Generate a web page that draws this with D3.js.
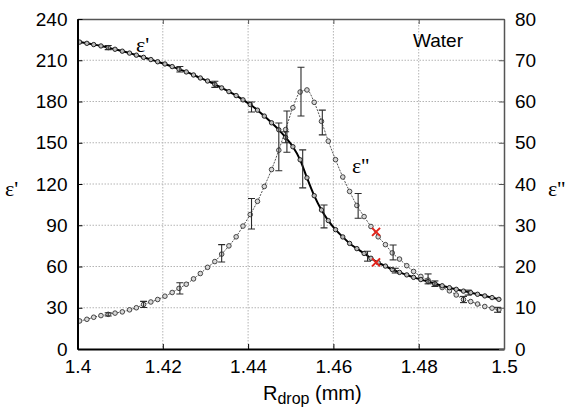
<!DOCTYPE html>
<html>
<head>
<meta charset="utf-8">
<script src="https://cdn.jsdelivr.net/npm/d3@7"></script>
<style>
  body { margin: 0; background: #fff; }
  svg { display: block; font-family: "Liberation Sans", Arial, sans-serif; }
</style>
</head>
<body>
<div id="chart"></div>
<script>
// R_drop (mm) at each sample
const rDrop = [
  1.4005, 1.4022, 1.4038, 1.4055, 1.4072, 1.4088, 1.4105, 1.4122, 1.4138, 1.4155,
  1.4172, 1.4188, 1.4205, 1.4222, 1.4238, 1.4255, 1.4272, 1.4288, 1.4305, 1.4322,
  1.4338, 1.4355, 1.4372, 1.4388, 1.4405, 1.4422, 1.4438, 1.4455, 1.4472, 1.4488,
  1.4505, 1.4522, 1.4538, 1.4555, 1.4572, 1.4588, 1.4605, 1.4622, 1.4638, 1.4655,
  1.4672, 1.4688, 1.4705, 1.4722, 1.4738, 1.4755, 1.4772, 1.4788, 1.4805, 1.4822,
  1.4838, 1.4855, 1.4872, 1.4888, 1.4905, 1.4922, 1.4938, 1.4955, 1.4972, 1.4988
];

// eps' (left axis)
const epsReal = [
  223.2, 222.3, 221.4, 220.4, 219.2, 218.0, 216.6, 215.2, 213.7, 212.1,
  210.5, 208.9, 207.3, 205.4, 203.5, 201.5, 199.3, 197.1, 194.9, 192.5,
  189.9, 187.2, 184.3, 181.2, 177.8, 173.7, 169.4, 164.5, 159.4, 153.9,
  147.1, 137.6, 124.5, 111.5, 101.1, 93.4, 86.8, 81.5, 76.8, 73.0,
  69.5, 66.0, 62.8, 60.3, 57.8, 55.7, 53.9, 52.1, 50.5, 49.0,
  47.5, 46.0, 44.6, 43.4, 42.1, 41.0, 39.8, 38.6, 37.4, 36.1
];

// eps'' (right axis)
const epsImag = [
  6.8, 7.2, 7.7, 8.1, 8.4, 8.7, 9.0, 9.5, 10.0, 10.8,
  11.4, 12.0, 12.8, 13.7, 14.7, 15.7, 17.0, 18.3, 19.8, 21.2,
  23.0, 25.0, 27.2, 29.8, 32.6, 35.8, 39.4, 43.5, 48.2, 53.2,
  58.5, 62.3, 62.8, 59.8, 55.2, 50.4, 45.9, 41.7, 38.2, 34.8,
  32.1, 29.7, 27.2, 25.3, 23.3, 21.8, 20.2, 18.8, 17.6, 16.7,
  15.7, 14.9, 14.1, 13.1, 12.0, 11.5, 10.9, 10.3, 9.9, 9.5
];

// error bars: [x, centre, half-width]
const realErrors = [
  [1.4072, 219.2, 1.5], [1.4240, 203.5, 2.0], [1.4322, 192.5, 2.2],
  [1.4408, 176.0, 3.6], [1.4488, 154.0, 4.0], [1.4528, 131.0, 13.8],
  [1.4578, 96.4, 8.3], [1.4680, 67.5, 3.6], [1.4745, 57.0, 1.7],
  [1.4838, 47.5, 2.0], [1.4916, 41.0, 1.8]
];
const imagErrors = [
  [1.4072, 8.4, 0.4], [1.4155, 10.8, 0.75], [1.4240, 14.7, 1.35],
  [1.4338, 23.2, 2.1], [1.4408, 32.8, 3.7], [1.4472, 49.0, 5.8],
  [1.4491, 52.7, 5.0], [1.4524, 62.4, 5.9], [1.4574, 54.9, 3.0],
  [1.4658, 34.7, 3.0], [1.4740, 23.4, 1.8], [1.4822, 17.0, 1.2],
  [1.4905, 12.0, 0.75], [1.4985, 9.5, 0.6]
];

// red crosses at R = 1.47
const realMark = [[1.47, 63.0]];
const imagMark = [[1.47, 28.4]];

const xTicks = [1.4, 1.42, 1.44, 1.46, 1.48, 1.5];
const leftTicks = [0, 30, 60, 90, 120, 150, 180, 210, 240];
const rightTicks = [0, 10, 20, 30, 40, 50, 60, 70, 80];

const width = 571;
const height = 410;
const margin = { top: 19, right: 67, bottom: 61, left: 77.5 };
const innerWidth = width - margin.left - margin.right;
const innerHeight = height - margin.top - margin.bottom;

const svg = d3.select('#chart').append('svg')
  .attr('width', width)
  .attr('height', height);

const chart = svg.append('g')
  .attr('transform', `translate(${margin.left},${margin.top})`);

const xScale = d3.scaleLinear().domain([1.4, 1.5]).range([0, innerWidth]);
const yLeft = d3.scaleLinear().domain([0, 240]).range([innerHeight, 0]);
const yRight = d3.scaleLinear().domain([0, 80]).range([innerHeight, 0]);

// grid
const grid = chart.append('g')
  .attr('stroke', '#b4b4b4')
  .attr('stroke-width', 1)
  .attr('stroke-dasharray', '1.5 1.5');
grid.selectAll('.gx')
  .data(xTicks.slice(1, -1))
  .join('line')
  .attr('x1', (d) => xScale(d)).attr('x2', (d) => xScale(d))
  .attr('y1', 0).attr('y2', innerHeight);
grid.selectAll('.gy')
  .data(leftTicks.slice(1, -1))
  .join('line')
  .attr('x1', 0).attr('x2', innerWidth)
  .attr('y1', (d) => yLeft(d)).attr('y2', (d) => yLeft(d));

const clip = svg.append('defs').append('clipPath').attr('id', 'plotClip');
clip.append('rect').attr('x', 0).attr('y', 0).attr('width', innerWidth).attr('height', innerHeight);

const plot = chart.append('g').attr('clip-path', 'url(#plotClip)');

const imagSeries = rDrop.map((x, i) => ({ x, y: epsImag[i] }));
const realSeries = rDrop.map((x, i) => ({ x, y: epsReal[i] }));

// eps'' curve
plot.append('path')
  .datum(imagSeries)
  .attr('fill', 'none')
  .attr('stroke', '#555')
  .attr('stroke-width', 1)
  .attr('stroke-dasharray', '2 1.2')
  .attr('d', d3.line().curve(d3.curveMonotoneX).x((d) => xScale(d.x)).y((d) => yRight(d.y)));

plot.append('g').selectAll('circle')
  .data(imagSeries)
  .join('circle')
  .attr('cx', (d) => xScale(d.x))
  .attr('cy', (d) => yRight(d.y))
  .attr('r', 2.3)
  .attr('fill', '#d8d8d8')
  .attr('stroke', '#333')
  .attr('stroke-width', 0.9);

// eps' curve
plot.append('path')
  .datum(realSeries)
  .attr('fill', 'none')
  .attr('stroke', '#000')
  .attr('stroke-width', 2)
  .attr('d', d3.line().curve(d3.curveMonotoneX).x((d) => xScale(d.x)).y((d) => yLeft(d.y)));

plot.append('g').selectAll('circle')
  .data(realSeries)
  .join('circle')
  .attr('cx', (d) => xScale(d.x))
  .attr('cy', (d) => yLeft(d.y))
  .attr('r', 2.2)
  .attr('fill', '#bbb')
  .attr('stroke', '#111')
  .attr('stroke-width', 0.9);

// error bars
const drawErrors = (rows, yScale) => {
  const g = plot.append('g').attr('stroke', '#2a2a2a').attr('stroke-width', 1.1);
  rows.forEach(([x, c, e]) => {
    const px = xScale(x);
    const y0 = yScale(c - e);
    const y1 = yScale(c + e);
    g.append('line').attr('x1', px).attr('x2', px).attr('y1', y0).attr('y2', y1);
    g.append('line').attr('x1', px - 3.5).attr('x2', px + 3.5).attr('y1', y0).attr('y2', y0);
    g.append('line').attr('x1', px - 3.5).attr('x2', px + 3.5).attr('y1', y1).attr('y2', y1);
  });
};
drawErrors(realErrors, yLeft);
drawErrors(imagErrors, yRight);

// red crosses
const drawCross = (rows, yScale) => {
  rows.forEach(([x, v]) => {
    const px = xScale(x);
    const py = yScale(v);
    chart.append('path')
      .attr('d', `M${px - 4},${py - 4}L${px + 4},${py + 4}M${px - 4},${py + 4}L${px + 4},${py - 4}`)
      .attr('stroke', '#e3241b')
      .attr('stroke-width', 2)
      .attr('fill', 'none');
  });
};
drawCross(realMark, yLeft);
drawCross(imagMark, yRight);

// axes
const styleAxis = (g, color, strokeWidth) => {
  g.attr('font-size', 19).attr('font-family', '"Liberation Sans", Arial, sans-serif');
  g.select('.domain').attr('stroke', color).attr('stroke-width', strokeWidth);
  g.selectAll('.tick line').attr('stroke', color).attr('stroke-width', 1);
  g.selectAll('.tick text').attr('fill', '#000');
};

chart.append('g')
  .attr('transform', `translate(0,${innerHeight})`)
  .call(d3.axisBottom(xScale).tickValues(xTicks).tickFormat(d3.format('')).tickSizeInner(-5).tickSizeOuter(0).tickPadding(10))
  .call((g) => styleAxis(g, '#000', 2))
  .call((g) => g.selectAll('.tick text').attr('dy', '0.74em'));

chart.append('g')
  .call(d3.axisTop(xScale).tickValues(xTicks).tickFormat('').tickSizeInner(-5).tickSizeOuter(0))
  .call((g) => styleAxis(g, '#555', 1.5));

chart.append('g')
  .call(d3.axisLeft(yLeft).tickValues(leftTicks).tickSizeInner(-5).tickSizeOuter(0).tickPadding(10))
  .call((g) => styleAxis(g, '#000', 2));

chart.append('g')
  .attr('transform', `translate(${innerWidth},0)`)
  .call(d3.axisRight(yRight).tickValues(rightTicks).tickSizeInner(-5).tickSizeOuter(0).tickPadding(11))
  .call((g) => styleAxis(g, '#555', 1.5));

// labels
const serif = '"Liberation Serif", "Times New Roman", serif';

svg.append('text')
  .attr('x', 5).attr('y', 196)
  .attr('font-family', serif).attr('font-size', 22)
  .text("ε'");

svg.append('text')
  .attr('x', 548).attr('y', 196)
  .attr('font-family', serif).attr('font-size', 22)
  .text("ε''");

svg.append('text')
  .attr('x', 136).attr('y', 51.5)
  .attr('font-family', serif).attr('font-size', 22)
  .text("ε'");

svg.append('text')
  .attr('x', 352).attr('y', 173)
  .attr('font-family', serif).attr('font-size', 22)
  .text("ε''");

svg.append('text')
  .attr('x', 413).attr('y', 46.5)
  .attr('font-size', 19)
  .text('Water');

const xTitle = svg.append('text')
  .attr('x', 263).attr('y', 400)
  .attr('font-size', 20);
xTitle.append('tspan').text('R');
xTitle.append('tspan').attr('dy', 4).attr('font-size', 16).text('drop');
xTitle.append('tspan').attr('dy', -4).text(' (mm)');
</script>
</body>
</html>
